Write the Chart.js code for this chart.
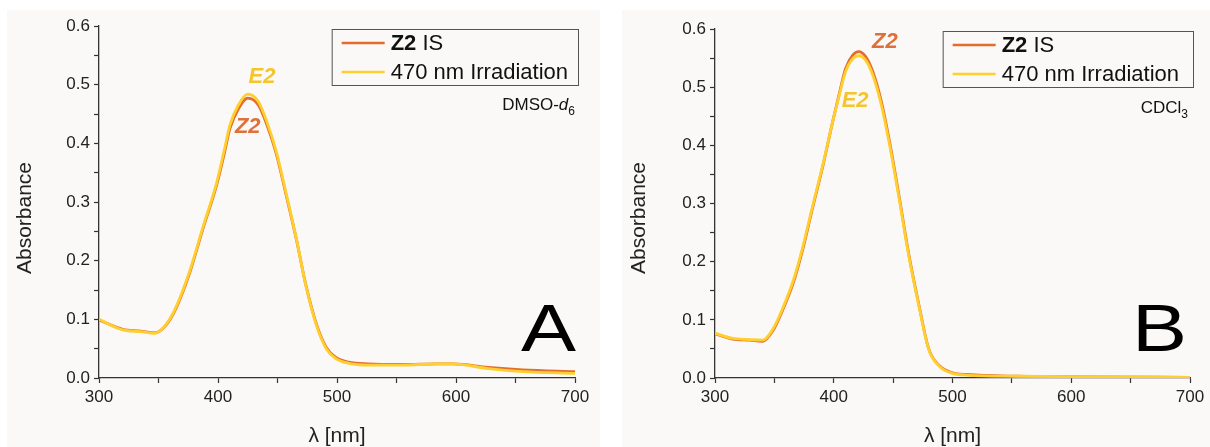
<!DOCTYPE html>
<html>
<head>
<meta charset="utf-8">
<script src="https://cdn.jsdelivr.net/npm/chart.js@4.4.1/dist/chart.umd.min.js"></script>
<style>
  body { margin: 0; background: #fff; width: 1210px; height: 447px; overflow: hidden; position: relative; }
  .panel { position: absolute; top: 10px; }
</style>
</head>
<body>
<div class="panel" style="left:7px"><canvas id="chartA" width="593" height="437"></canvas></div>
<div class="panel" style="left:622px"><canvas id="chartB" width="588" height="437"></canvas></div>
<script>
// panel A - DMSO-d6
const waveA = [300, 320, 335, 347, 357, 365, 376, 387, 399, 405, 410, 417, 425, 434, 441, 449, 457, 466, 474, 483, 491, 499, 510, 526, 555, 584, 598, 627, 656, 700];
const z2A = [0.099, 0.083, 0.080, 0.077, 0.092, 0.120, 0.178, 0.252, 0.330, 0.380, 0.425, 0.458, 0.477, 0.465, 0.432, 0.382, 0.314, 0.235, 0.157, 0.090, 0.052, 0.035, 0.027, 0.024, 0.023, 0.024, 0.024, 0.018, 0.014, 0.011];
const e2A = [0.100, 0.082, 0.079, 0.076, 0.093, 0.122, 0.181, 0.255, 0.334, 0.386, 0.431, 0.465, 0.484, 0.471, 0.437, 0.386, 0.317, 0.236, 0.156, 0.088, 0.050, 0.033, 0.025, 0.022, 0.022, 0.024, 0.024, 0.016, 0.011, 0.008];

// panel B - CDCl3
const waveB = [300, 315, 329, 340, 349, 357, 366, 374, 382, 391, 399, 405, 410, 416, 421, 427, 433, 440, 447, 455, 463, 472, 480, 489, 500, 512, 555, 612, 700];
const z2B = [0.076, 0.067, 0.065, 0.063, 0.082, 0.117, 0.164, 0.222, 0.291, 0.366, 0.440, 0.492, 0.532, 0.555, 0.561, 0.552, 0.526, 0.476, 0.406, 0.313, 0.215, 0.123, 0.050, 0.021, 0.009, 0.006, 0.003, 0.002, 0.001];
const e2B = [0.077, 0.068, 0.066, 0.065, 0.085, 0.120, 0.168, 0.226, 0.294, 0.368, 0.440, 0.489, 0.527, 0.549, 0.554, 0.546, 0.520, 0.470, 0.401, 0.309, 0.212, 0.121, 0.049, 0.020, 0.008, 0.005, 0.003, 0.002, 0.001];

const legendBold = ["Z2", ""];
const legendText = [" IS", "470 nm Irradiation"];
const xRange = [300, 700];
const yRange = [0, 0.6];

const ORANGE = "#e36c2f";
const YELLOW = "#ffcf2e";
const FONT = '"Liberation Sans", Arial, sans-serif';

const toPoints = (xs, ys) => xs.map((x, i) => ({ x: x, y: ys[i] }));

// draws legend box, y title, peak labels, solvent and panel letter
const decoPlugin = {
  id: "panelDeco",
  beforeDraw(chart) {
    const c = chart.ctx;
    c.save();
    c.fillStyle = "#faf9f7";
    c.fillRect(0, 0, chart.width, chart.height);
    c.restore();
  },
  afterDatasetsDraw(chart, args, opts) {
    const { ctx, chartArea, scales } = chart;
    ctx.save();

    // y axis title (sits a bit below the middle in the original)
    ctx.save();
    ctx.font = "21px " + FONT;
    ctx.fillStyle = "#222";
    ctx.textAlign = "center";
    ctx.textBaseline = "middle";
    ctx.translate(opts.titleX, 208);
    ctx.rotate(-Math.PI / 2);
    ctx.fillText("Absorbance", 0, 0);
    ctx.restore();

    // peak labels
    ctx.font = "italic bold 22px " + FONT;
    ctx.textAlign = "center";
    ctx.textBaseline = "middle";
    opts.peaks.forEach(p => {
      ctx.fillStyle = p.color;
      ctx.fillText(p.text, scales.x.getPixelForValue(p.x), scales.y.getPixelForValue(p.y));
    });

    // legend
    ctx.textAlign = "left";
    let maxW = 0;
    legendText.forEach((t, i) => {
      ctx.font = "bold 22px " + FONT;
      let w = ctx.measureText(legendBold[i]).width;
      ctx.font = "22px " + FONT;
      w += ctx.measureText(t).width;
      maxW = Math.max(maxW, w);
    });
    const boxW = 59 + maxW + opts.legendPad;
    const boxR = chartArea.right + 3;
    const boxL = boxR - boxW;
    const boxT = chartArea.top + opts.legendTop;
    const boxH = 56;
    ctx.fillStyle = "#faf9f7";
    ctx.fillRect(boxL, boxT, boxW, boxH);
    ctx.strokeStyle = "#555";
    ctx.lineWidth = 1;
    ctx.strokeRect(boxL + 0.5, boxT + 0.5, boxW, boxH);
    chart.data.datasets.forEach((ds, i) => {
      const y = boxT + 14 + i * 29;
      ctx.strokeStyle = ds.borderColor;
      ctx.lineWidth = 2.5;
      ctx.beginPath();
      ctx.moveTo(boxL + 10, y);
      ctx.lineTo(boxL + 53, y);
      ctx.stroke();
      ctx.fillStyle = "#111";
      let tx = boxL + 59;
      ctx.font = "bold 22px " + FONT;
      ctx.fillText(legendBold[i], tx, y + 1);
      tx += ctx.measureText(legendBold[i]).width;
      ctx.font = "22px " + FONT;
      ctx.fillText(legendText[i], tx, y + 1);
    });

    // solvent
    ctx.textBaseline = "alphabetic";
    const partFont = s => (s.italic ? "italic " : "") + (s.sub ? "12px " : "17px ") + FONT;
    let total = 0;
    opts.solvent.forEach(s => {
      ctx.font = partFont(s);
      total += ctx.measureText(s.t).width;
    });
    let sx = chartArea.right + opts.solventDx - total;
    const sy = chartArea.top + 84;
    ctx.fillStyle = "#111";
    opts.solvent.forEach(s => {
      ctx.font = partFont(s);
      ctx.fillText(s.t, sx, s.sub ? sy + 5 : sy);
      sx += ctx.measureText(s.t).width;
    });

    // panel letter, above the flat tail of the curves
    ctx.font = "66px " + FONT;
    ctx.textAlign = "right";
    ctx.fillStyle = "#000";
    ctx.translate(chartArea.right + opts.letterDx, chartArea.bottom - 27);
    ctx.scale(1.25, 1);
    ctx.fillText(opts.letter, 0, 0);

    ctx.restore();
  }
};

function makePanel(canvasId, waves, z2, e2, dims, deco) {
  const canvas = document.getElementById(canvasId);

  return new Chart(canvas, {
    type: "line",
    data: {
      datasets: [
        { label: legendBold[0] + legendText[0], data: toPoints(waves, z2), borderColor: ORANGE, order: 2 },
        { label: legendBold[1] + legendText[1], data: toPoints(waves, e2), borderColor: YELLOW, order: 1 }
      ]
    },
    options: {
      responsive: false,
      animation: false,
      parsing: false,
      elements: {
        point: { radius: 0 },
        line: { borderWidth: 2.8, cubicInterpolationMode: "monotone" }
      },
      layout: { padding: { top: dims.top, right: dims.right, left: 0, bottom: 0 } },
      plugins: {
        legend: { display: false },
        tooltip: { enabled: false },
        panelDeco: deco
      },
      scales: {
        x: {
          type: "linear",
          min: xRange[0],
          max: xRange[1],
          afterFit: s => { s.height = 69; },
          border: { display: true, color: "#333", width: 1.3 },
          grid: { drawOnChartArea: false, drawTicks: true, tickLength: 5, color: "#333", tickWidth: 1.2 },
          ticks: {
            stepSize: 50,
            autoSkip: false,
            maxRotation: 0,
            padding: 4,
            color: "#222",
            font: { family: FONT, size: 17 },
            callback: v => (v % 100 === 0 ? String(v) : "")
          },
          title: { display: true, text: "λ [nm]", color: "#222", font: { family: FONT, size: 21, lineHeight: 1 }, padding: { top: 0, bottom: 0 } }
        },
        y: {
          min: yRange[0],
          max: yRange[1],
          afterFit: s => { s.width = dims.left; },
          border: { display: true, color: "#333", width: 1.3 },
          grid: { drawOnChartArea: false, drawTicks: true, tickLength: 5, color: "#333", tickWidth: 1.2 },
          ticks: {
            stepSize: 0.05,
            autoSkip: false,
            padding: 4,
            color: "#222",
            font: { family: FONT, size: 17 },
            callback: (v, i) => (i % 2 === 0 ? v.toFixed(1) : "")
          },
          title: { display: false }
        }
      }
    },
    plugins: [decoPlugin]
  });
}

makePanel("chartA", waveA, z2A, e2A,
  { left: 92, top: 16, right: 25 },
  {
    titleX: 18,
    peaks: [
      { text: "E2", x: 437, y: 0.514, color: "#f5c52e" },
      { text: "Z2", x: 425, y: 0.428, color: "#e0703a" }
    ],
    legendTop: 3,
    legendPad: 10,
    solvent: [{ t: "DMSO-" }, { t: "d", italic: true }, { t: "6", sub: true }],
    solventDx: 0,
    letter: "A",
    letterDx: 1
  });

makePanel("chartB", waveB, z2B, e2B,
  { left: 93, top: 19, right: 20 },
  {
    titleX: 17,
    peaks: [
      { text: "Z2", x: 443, y: 0.577, color: "#e0703a" },
      { text: "E2", x: 418, y: 0.476, color: "#f5c52e" }
    ],
    legendTop: 2,
    legendPad: 14,
    solvent: [{ t: "CDCl" }, { t: "3", sub: true }],
    solventDx: -2,
    letter: "B",
    letterDx: -3
  });
</script>
</body>
</html>
